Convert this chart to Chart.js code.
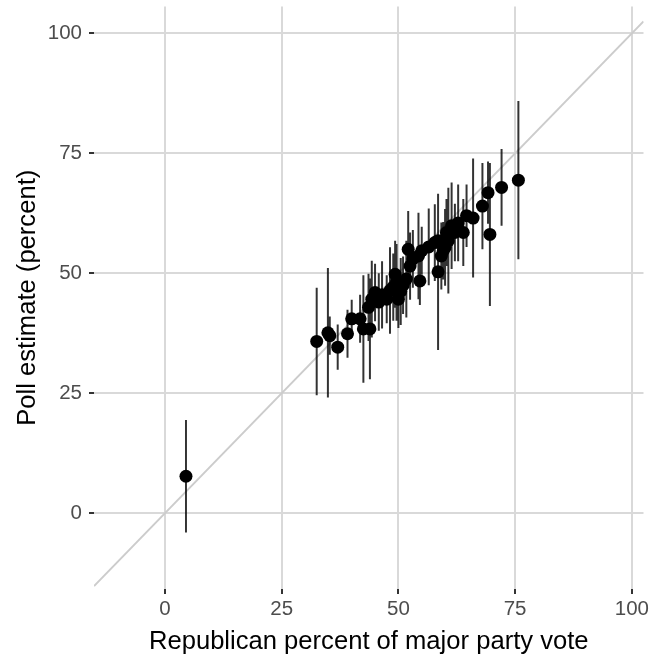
<!DOCTYPE html>
<html>
<head>
<meta charset="utf-8">
<script src="https://cdn.jsdelivr.net/npm/chart.js@4.4.0/dist/chart.umd.min.js"></script>
<style>
    html, body { margin: 0; padding: 0; background: #ffffff; }
    #wrap { width: 650px; height: 656px; }
</style>
</head>
<body>
<div id="wrap"><canvas id="chart" width="650" height="656"></canvas></div>
<script>
// Republican share of two-party vote (x), poll estimate (y), half-width of interval (err)
const repVote = [4.5, 32.5, 34.9, 35.3, 37.0, 39.1, 40.0, 41.8, 42.5, 43.9,
    43.6, 44.3, 45.0, 47.5, 48.2, 48.9, 49.6, 50.0, 50.5, 51.7,
    52.1, 53.1, 54.3, 54.6, 55.0, 58.5, 58.5, 59.2, 59.6, 60.0,
    60.7, 61.4, 62.1, 63.9, 64.6, 66.0, 68.0, 69.2, 69.6, 72.1,
    75.7, 46.5, 49.3, 51.0, 56.5, 57.8, 60.3, 62.8, 45.8, 52.5];
const pollEst = [7.7, 35.8, 37.6, 37.0, 34.6, 37.4, 40.5, 40.5, 38.4, 38.4,
    42.9, 44.6, 46.0, 44.6, 46.4, 47.1, 48.1, 44.6, 46.2, 48.8,
    55.0, 53.0, 53.6, 48.4, 54.7, 56.8, 50.3, 53.6, 54.7, 55.4,
    56.8, 59.9, 58.5, 58.5, 62.0, 61.5, 64.0, 66.8, 58.1, 67.9,
    69.4, 45.5, 49.8, 47.5, 55.5, 56.4, 58.5, 60.5, 44.0, 51.5];
const pollErr = [11.7, 11.2, 13.5, 4.0, 4.7, 5.0, 4.0, 5.0, 11.2, 10.5,
    7.0, 8.0, 6.0, 5.0, 9.0, 7.0, 8.0, 6.0, 7.0, 8.0,
    8.0, 6.0, 9.0, 5.0, 5.0, 6.0, 16.3, 7.0, 6.0, 8.0,
    11.0, 9.0, 6.0, 7.0, 6.5, 12.4, 9.0, 6.5, 14.9, 8.0,
    16.5, 7.0, 7.0, 6.0, 8.0, 8.0, 7.0, 8.0, 6.0, 7.0];

const tickVals = [0, 25, 50, 75, 100];
const xRange = [-15.2, 102.5];
const yRange = [-15.8, 105.6];

const FONT = "'Liberation Sans', Arial, Helvetica, sans-serif";

// points
const pointData = repVote.map((x, i) => ({ x: x, y: pollEst[i] }));

// error bars: one segment per state, broken with null
const barData = [];
repVote.forEach((x, i) => {
    barData.push({ x: x, y: pollEst[i] - pollErr[i] });
    barData.push({ x: x, y: pollEst[i] + pollErr[i] });
    barData.push({ x: x, y: null });
});

// y = x reference line across the panel
const diagData = [{ x: xRange[0], y: xRange[0] }, { x: xRange[1], y: xRange[1] }];

const setTicks = (scale) => {
    scale.ticks = tickVals.map(v => ({ value: v }));
};

const gridOpts = {
    color: '#d9d9d9',
    lineWidth: 2,
    tickColor: '#333333',
    tickLength: 5,
    tickWidth: 2
};

new Chart(document.getElementById('chart'), {
    type: 'scatter',
    data: {
        datasets: [
            {
                data: pointData,
                backgroundColor: '#000000',
                borderWidth: 0,
                pointRadius: 6.5,
                order: 0
            },
            {
                data: barData,
                showLine: true,
                spanGaps: false,
                borderColor: 'rgba(0,0,0,0.8)',
                borderWidth: 2,
                pointRadius: 0,
                order: 1
            },
            {
                data: diagData,
                showLine: true,
                borderColor: '#cccccc',
                borderWidth: 2,
                pointRadius: 0,
                order: 2
            }
        ]
    },
    options: {
        responsive: false,
        animation: false,
        layout: { padding: { top: 5, right: 0, left: 0, bottom: 0 } },
        plugins: {
            legend: { display: false },
            tooltip: { enabled: false }
        },
        scales: {
            x: {
                type: 'linear',
                min: xRange[0],
                max: xRange[1],
                afterBuildTicks: setTicks,
                afterFit: (scale) => {
                    scale.height = 67;
                    scale.paddingLeft = 0;
                    scale.paddingRight = 0;
                },
                border: { display: false },
                grid: gridOpts,
                ticks: {
                    color: '#4d4d4d',
                    font: { family: FONT, size: 20.5 },
                    padding: 3,
                    maxRotation: 0
                },
                title: {
                    display: true,
                    text: 'Republican percent of major party vote',
                    color: '#000000',
                    font: { family: FONT, size: 25.6 },
                    padding: { top: 0, bottom: -1 }
                }
            },
            y: {
                type: 'linear',
                min: yRange[0],
                max: yRange[1],
                afterBuildTicks: setTicks,
                afterFit: (scale) => {
                    scale.width = 94;
                    scale.paddingTop = 0;
                    scale.paddingBottom = 0;
                },
                border: { display: false },
                grid: gridOpts,
                ticks: {
                    color: '#4d4d4d',
                    font: { family: FONT, size: 20.5 },
                    padding: 7
                },
                title: {
                    display: true,
                    text: 'Poll estimate (percent)',
                    color: '#000000',
                    font: { family: FONT, size: 25.6 },
                    padding: { top: 13, bottom: 0 }
                }
            }
        }
    }
});
</script>
</body>
</html>
